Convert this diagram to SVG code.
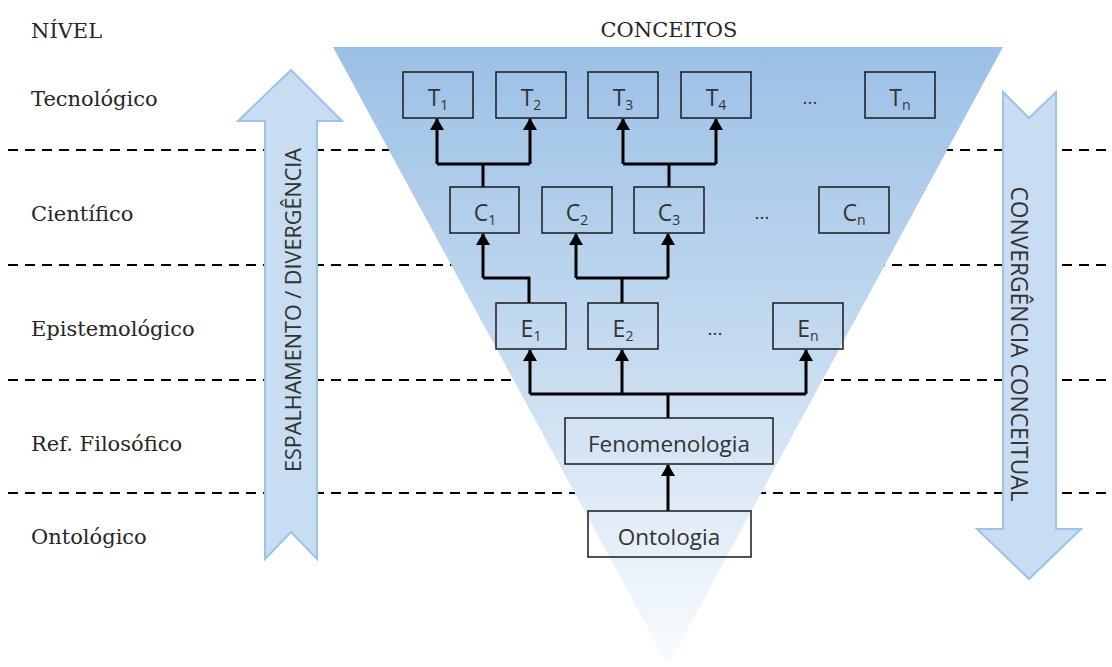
<svg xmlns="http://www.w3.org/2000/svg" width="1112" height="667" viewBox="0 0 1112 667">
<style>
.lvl{font-family:"DejaVu Serif","Liberation Serif",serif;font-size:21px;fill:#262626}
.lbl{font-family:"Open Sans","Liberation Sans",sans-serif;font-size:23px;fill:#333}
.wide{font-size:22.5px}
.sub{font-size:14px}
.box{fill:none;stroke:#1a1a1a;stroke-width:1.5}
.dash{stroke:#000;stroke-width:2.2;stroke-dasharray:10 7;fill:none}
.big{fill:#c8dcf2;stroke:#9dc3e6;stroke-width:2}
.con{fill:none;stroke:#000;stroke-width:3;stroke-linejoin:miter}
.arr{fill:none;stroke:#000;stroke-width:3;marker-end:url(#ah)}
.dots{font-family:"Open Sans","Liberation Sans",sans-serif;font-size:19px;fill:#333}
</style>
<defs>
<linearGradient id="tg" x1="0" y1="0" x2="0" y2="1">
<stop offset="0" stop-color="#9bc0e6"/>
<stop offset="0.5" stop-color="#c6dbf0"/>
<stop offset="1" stop-color="#fafcfe"/>
</linearGradient>
<marker id="ah" markerWidth="12" markerHeight="14" viewBox="0 0 12 14" refX="11" refY="7" orient="auto" markerUnits="userSpaceOnUse">
<path d="M0,0 L12,7 L0,14 Z" fill="#000"/>
</marker>
</defs>
<rect width="1112" height="667" fill="#fff"/>
<g id="levels">
<line class="dash" x1="8" y1="150" x2="1112" y2="150"/>
<line class="dash" x1="8" y1="265" x2="1112" y2="265"/>
<line class="dash" x1="8" y1="380" x2="1112" y2="380"/>
<line class="dash" x1="8" y1="493" x2="1112" y2="493"/>
<text class="lvl" x="31" y="38">NÍVEL</text>
<text class="lvl" x="31" y="106">Tecnológico</text>
<text class="lvl" x="31" y="221">Científico</text>
<text class="lvl" x="31" y="336">Epistemológico</text>
<text class="lvl" x="31" y="451">Ref. Filosófico</text>
<text class="lvl" x="31" y="544">Ontológico</text>
</g>
<g id="triangle">
<polygon points="333,47 1003,47 668,665" fill="url(#tg)"/>
<text class="lvl" x="669" y="37" text-anchor="middle">CONCEITOS</text>
</g>
<g id="arrow-left">
<polygon class="big" points="291,70 342,121 317,121 317,559 291,532 265,559 265,121 238,121"/>
<text class="lbl" transform="translate(301,310) rotate(-90)" text-anchor="middle" style="font-size:21.6px">ESPALHAMENTO / DIVERGÊNCIA</text>
</g>
<g id="arrow-right">
<polygon class="big" points="1003,92 1029,118 1056,92 1056,529 1081,529 1029,579 977,529 1003,529"/>
<text class="lbl" transform="translate(1011,344) rotate(90)" text-anchor="middle" style="font-size:22.8px">CONVERGÊNCIA CONCEITUAL</text>
</g>
<g id="connectors">
<path class="con" d="M483,187 V164 M437,164 H530 M669,187 V164 M623,164 H716"/>
<path class="arr" d="M437,164 V119"/>
<path class="arr" d="M530,164 V119"/>
<path class="arr" d="M623,164 V119"/>
<path class="arr" d="M716,164 V119"/>
<path class="con" d="M529,303 V278 H483 M622,303 V278 M576,278 H668"/>
<path class="arr" d="M483,278 V234"/>
<path class="arr" d="M576,278 V234"/>
<path class="arr" d="M668,278 V234"/>
<path class="con" d="M668,418 V394 M530,394 H806"/>
<path class="arr" d="M530,394 V350"/>
<path class="arr" d="M622,394 V350"/>
<path class="arr" d="M806,394 V350"/>
<path class="arr" d="M668,511 V465"/>
</g>
<g id="T1"><rect class="box" x="403" y="72" width="70" height="46"/><text class="lbl" x="438" y="106" text-anchor="middle">T<tspan class="sub" dy="4">1</tspan></text></g>
<g id="T2"><rect class="box" x="496" y="72" width="70" height="46"/><text class="lbl" x="531" y="106" text-anchor="middle">T<tspan class="sub" dy="4">2</tspan></text></g>
<g id="T3"><rect class="box" x="588" y="72" width="70" height="46"/><text class="lbl" x="623" y="106" text-anchor="middle">T<tspan class="sub" dy="4">3</tspan></text></g>
<g id="T4"><rect class="box" x="681" y="72" width="70" height="46"/><text class="lbl" x="716" y="106" text-anchor="middle">T<tspan class="sub" dy="4">4</tspan></text></g>
<g id="Tdots"><text class="dots" x="810" y="104" text-anchor="middle">...</text></g>
<g id="Tn"><rect class="box" x="865" y="72" width="70" height="46"/><text class="lbl" x="900" y="106" text-anchor="middle">T<tspan class="sub" dy="4">n</tspan></text></g>
<g id="C1"><rect class="box" x="450" y="187" width="69" height="46"/><text class="lbl" x="485" y="221" text-anchor="middle">C<tspan class="sub" dy="4">1</tspan></text></g>
<g id="C2"><rect class="box" x="542" y="187" width="70" height="46"/><text class="lbl" x="577" y="221" text-anchor="middle">C<tspan class="sub" dy="4">2</tspan></text></g>
<g id="C3"><rect class="box" x="634" y="187" width="70" height="46"/><text class="lbl" x="669" y="221" text-anchor="middle">C<tspan class="sub" dy="4">3</tspan></text></g>
<g id="Cdots"><text class="dots" x="762" y="219" text-anchor="middle">...</text></g>
<g id="Cn"><rect class="box" x="819" y="187" width="70" height="46"/><text class="lbl" x="854" y="221" text-anchor="middle">C<tspan class="sub" dy="4">n</tspan></text></g>
<g id="E1"><rect class="box" x="496" y="303" width="70" height="46"/><text class="lbl" x="531" y="337" text-anchor="middle">E<tspan class="sub" dy="4">1</tspan></text></g>
<g id="E2"><rect class="box" x="588" y="303" width="70" height="46"/><text class="lbl" x="623" y="337" text-anchor="middle">E<tspan class="sub" dy="4">2</tspan></text></g>
<g id="Edots"><text class="dots" x="715" y="335" text-anchor="middle">...</text></g>
<g id="En"><rect class="box" x="773" y="303" width="70" height="46"/><text class="lbl" x="808" y="337" text-anchor="middle">E<tspan class="sub" dy="4">n</tspan></text></g>
<g id="Fenomenologia"><rect class="box" x="565" y="418" width="208" height="46"/><text class="lbl wide" x="669" y="452" text-anchor="middle">Fenomenologia</text></g>
<g id="Ontologia"><rect class="box" x="588" y="511" width="163" height="46"/><text class="lbl wide" x="669" y="545" text-anchor="middle">Ontologia</text></g>
</svg>
